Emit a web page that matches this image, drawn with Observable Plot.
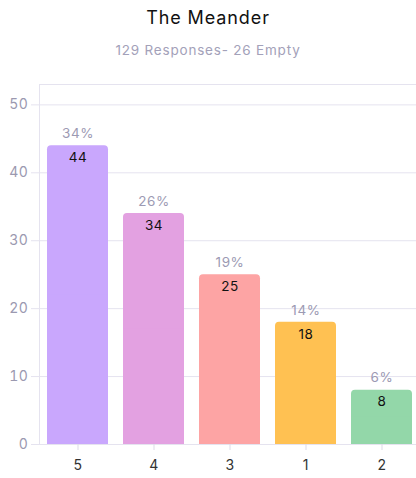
<!DOCTYPE html>
<html><head><meta charset="utf-8">
<script src="https://cdn.jsdelivr.net/npm/d3@7"></script>
<script src="https://cdn.jsdelivr.net/npm/@observablehq/plot@0.6"></script>
<style>
body{margin:0;background:#fff;font-family:Inter,"Noto Sans",sans-serif;}
#wrap{position:relative;width:416px;height:478px;overflow:hidden}
#title{position:absolute;top:6px;left:0;width:416px;text-align:center;font-size:18px;font-weight:400;color:#111;line-height:24px;letter-spacing:0.9px}
#sub{position:absolute;top:41px;left:0;width:416px;text-align:center;font-size:13.5px;color:#a3a1b9;line-height:18px;letter-spacing:0.8px}
#chart{position:absolute;top:70px;left:0}
#chart svg text{letter-spacing:0.6px}
</style></head>
<body>
<div id="wrap">
<div id="title">The Meander</div>
<div id="sub">129 Responses- 26 Empty</div>
<div id="chart"></div>
</div>
<script>
const categories = ["5","4","3","1","2"];
const counts = [44,34,25,18,8];
const percents = ["34%","26%","19%","14%","6%"];
const colors = ["#c9a7fd","#e3a1e1","#fda4a4","#ffc152","#93d7a9"];
const yTicks = [0,10,20,30,40,50];
const yMax = 53;

const data = categories.map((c,i)=>({cat:c, count:counts[i], pct:percents[i], color:colors[i]}));
const grid = "#e5e3ef";

const chart = Plot.plot({
  width: 416, height: 408,
  marginTop: 14, marginBottom: 34, marginLeft: 39, marginRight: -4,
  style: {fontFamily: "Inter, 'Noto Sans', sans-serif", background: "transparent"},
  x: {domain: categories, paddingInner: 0.2, paddingOuter: 0.1, label: null},
  y: {domain: [0, yMax], label: null},
  marks: [
    Plot.frame({stroke: grid}),
    Plot.gridY(yTicks, {stroke: grid, strokeOpacity: 1}),
    Plot.barY(data, {x: "cat", y: "count", fill: "color", rx: 4}),
    Plot.barY(data, {x: "cat", y: d => d.count / 2, fill: "color"}),
    Plot.text(data, {x: "cat", y: "count", text: "pct", dy: -12, fill: "#9c9ab3", fontSize: 13.5}),
    Plot.text(data, {x: "cat", y: "count", text: d => String(d.count), dy: 12, fill: "#111", fontSize: 13.5, fontWeight: 400}),
    Plot.axisY(yTicks, {tickSize: 8, stroke: grid, fill: "#9b99b0", fontSize: 14, tickPadding: 3, label: null}),
    Plot.axisX({tickSize: 6, stroke: "#dddbe8", fill: "#333", fontSize: 14, tickPadding: 10, label: null})
  ]
});
document.getElementById("chart").appendChild(chart);
</script>
</body></html>
